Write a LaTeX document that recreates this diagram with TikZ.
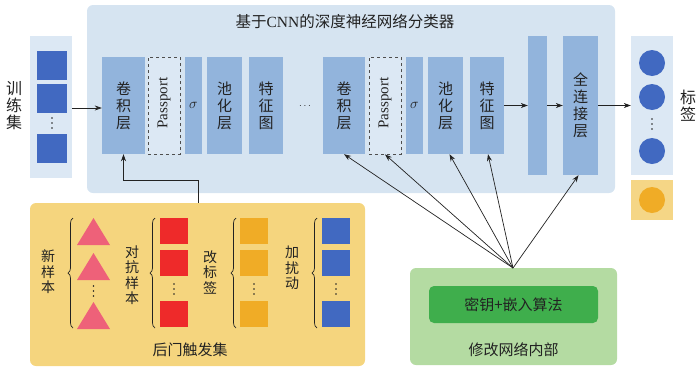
\documentclass[tikz,border=0pt]{standalone}
\usepackage{fontspec}
\setmainfont{Liberation Serif}
\newfontfamily\cjk{Noto Sans CJK SC}
\usetikzlibrary{arrows.meta,decorations.pathreplacing,calc}
\definecolor{panelblue}{HTML}{D6E4F1}
\definecolor{lightblue}{HTML}{DCE8F4}
\definecolor{layerblue}{HTML}{92B4DC}
\definecolor{sqblue}{HTML}{4169C1}
\definecolor{bdyellow}{HTML}{F5D57E}
\definecolor{smallyellow}{HTML}{F5D686}
\definecolor{orng}{HTML}{F0AC26}
\definecolor{pinkt}{HTML}{EE6179}
\definecolor{redsq}{HTML}{EE2A2A}
\definecolor{greenp}{HTML}{B4DBA2}
\definecolor{greeni}{HTML}{3FAE4C}
\definecolor{textc}{HTML}{222222}
\newcommand{\vdotsat}[2]{\foreach \dy in {-5,0,5} {\fill[textc] (#1,#2+\dy) circle (0.9pt);}}
\begin{document}
\begin{tikzpicture}[x=1pt,y=-1pt,
  layer/.style={fill=layerblue, inner sep=0pt, font=\cjk\fontsize{15}{17}\selectfont, align=center, text=textc},
  passbox/.style={fill=lightblue, draw=textc!80, dashed, line width=0.8pt, inner sep=0pt},
  passtext/.style={rotate=90, font=\fontsize{15}{16}\selectfont, text=textc, inner sep=0pt},
  arr/.style={draw=textc, line width=0.7pt, -{Stealth[length=7pt,width=5pt]}},
  vlabel/.style={font=\cjk\fontsize{14}{15.5}\selectfont, align=center, text=textc, inner sep=0pt},
  sq/.style={minimum width=28pt, minimum height=26pt, inner sep=0pt},
  bluesq/.style={sq, fill=sqblue},
  brc/.style={draw=textc, line width=0.7pt, decorate, decoration={brace, amplitude=5pt}}
]
\useasboundingbox (0,0) rectangle (700,370);

% main panel
\node[fill=panelblue, rounded corners=6pt, minimum width=528pt, minimum height=188pt, inner sep=0pt] (main) at (351,99) {};
\node[font=\fontsize{15.5}{17}\selectfont, text=textc] (title) at (345,22) {{\cjk 基于}CNN{\cjk 的深度神经网络分类器}};

% training set
\node[fill=lightblue, minimum width=42pt, minimum height=142pt, inner sep=0pt] (train) at (51,107) {};
\node[bluesq, minimum width=30pt, minimum height=29pt] (t1) at (52,65.5) {};
\node[bluesq, minimum width=30pt, minimum height=29pt] (t2) at (52,98.5) {};
\vdotsat{52}{123}
\node[bluesq, minimum width=30pt, minimum height=29pt] (t3) at (52,148.5) {};
\node[font=\cjk\fontsize{16}{17}\selectfont, align=center, text=textc, inner sep=0pt] (trainlbl) at (14,106) {训\\练\\集};

% layers
\node[layer, minimum width=43pt, minimum height=97pt] (c1) at (123.5,105.5) {卷\\积\\层};
\node[passbox, minimum width=32pt, minimum height=97pt] (p1) at (164,105.5) {};
\node[passtext] (p1t) at (164,103) {Passport};
\node[layer, minimum width=17pt, minimum height=97pt, font=\fontsize{14}{15}\selectfont] (s1) at (193.5,105.5) {$\sigma$};
\node[layer, minimum width=35pt, minimum height=97pt] (pool1) at (224.5,105.5) {池\\化\\层};
\node[layer, minimum width=34pt, minimum height=97pt] (f1) at (266,105.5) {特\\征\\图};
\node[text=textc, inner sep=0pt] (hd) at (305,106) {$\cdots$};
\node[layer, minimum width=42pt, minimum height=97pt] (c2) at (344,105.5) {卷\\积\\层};
\node[passbox, minimum width=32pt, minimum height=97pt] (p2) at (385,105.5) {};
\node[passtext] (p2t) at (385,103) {Passport};
\node[layer, minimum width=17pt, minimum height=97pt, font=\fontsize{14}{15}\selectfont] (s2) at (414.5,105.5) {$\sigma$};
\node[layer, minimum width=35pt, minimum height=97pt] (pool2) at (445.5,105.5) {池\\化\\层};
\node[layer, minimum width=34pt, minimum height=97pt] (f2) at (487,105.5) {特\\征\\图};
\node[layer, minimum width=19pt, minimum height=139pt] (bar) at (537.5,105.5) {};
\node[layer, minimum width=35pt, minimum height=139pt] (fc) at (580.5,105.5) {全\\连\\接\\层};

% labels
\node[fill=lightblue, minimum width=42pt, minimum height=139pt, inner sep=0pt] (lab) at (652,105.5) {};
\node[circle, fill=sqblue, minimum size=26pt, inner sep=0pt] (l1) at (652,63) {};
\node[circle, fill=sqblue, minimum size=26pt, inner sep=0pt] (l2) at (652,97) {};
\vdotsat{652}{124}
\node[circle, fill=sqblue, minimum size=26pt, inner sep=0pt] (l3) at (652,151) {};
\node[fill=smallyellow, minimum width=42pt, minimum height=40pt, inner sep=0pt] (ylab) at (652,200) {};
\node[circle, fill=orng, minimum size=26pt, inner sep=0pt] (yc) at (652,200) {};
\node[font=\cjk\fontsize{16}{17}\selectfont, align=center, text=textc, inner sep=0pt] (lablbl) at (688,106) {标\\签};

% arrows along the pipeline
\draw[arr] (train.east |- 0,108) -- (c1.west |- 0,108);
\draw[arr] (f2.east) -- (bar.west |- f2.east);
\draw[arr] (bar.east |- f2.east) -- (fc.west |- f2.east);
\draw[arr] (fc.east |- f2.east) -- (lab.west |- f2.east);

% backdoor panel
\node[fill=bdyellow, rounded corners=6pt, minimum width=335pt, minimum height=163pt, inner sep=0pt] (bd) at (197.5,284.5) {};
\node[font=\cjk\fontsize{15}{17}\selectfont, text=textc] (bdt) at (190,350) {后门触发集};
\coordinate (bdtop) at (198,203);
\draw[arr] (bdtop) -- (198,180) -| (c1.south);

% triangles
\draw[fill=pinkt, draw=none] (77,245) -- (110,245) -- (93.5,218) -- cycle;
\draw[fill=pinkt, draw=none] (77,280) -- (110,280) -- (93.5,253) -- cycle;
\vdotsat{93.5}{291}
\draw[fill=pinkt, draw=none] (77,329) -- (110,329) -- (93.5,302) -- cycle;
\draw[brc] (73,328) -- (73,218);
\node[vlabel] (xyb) at (48,272) {新\\样\\本};

% red squares
\node[sq, fill=redsq] (r1) at (174,231) {};
\node[sq, fill=redsq] (r2) at (174,263) {};
\vdotsat{174}{289}
\node[sq, fill=redsq] (r3) at (174,314) {};
\draw[brc] (155,328) -- (155,218);
\node[vlabel] (dkyb) at (132,275) {对\\抗\\样\\本};

% orange squares
\node[sq, fill=orng] (o1) at (254,231) {};
\node[sq, fill=orng] (o2) at (254,263) {};
\vdotsat{254}{289}
\node[sq, fill=orng] (o3) at (254,314) {};
\draw[brc] (236,328) -- (236,218);
\node[vlabel] (gbq) at (210,272) {改\\标\\签};

% blue squares
\node[bluesq] (b1) at (336,231) {};
\node[bluesq] (b2) at (336,263) {};
\vdotsat{336}{289}
\node[bluesq] (b3) at (336,314) {};
\draw[brc] (317,328) -- (317,218);
\node[vlabel] (jrd) at (292,268) {加\\扰\\动};

% green panel
\node[fill=greenp, rounded corners=6pt, minimum width=207pt, minimum height=97pt, inner sep=0pt] (gp) at (513.5,316.5) {};
\node[fill=greeni, rounded corners=5pt, minimum width=169pt, minimum height=37pt, inner sep=0pt, font=\cjk\fontsize{15}{17}\selectfont, text=textc] (gi) at (513.5,304.5) {密钥+嵌入算法};
\node[font=\cjk\fontsize{15}{17}\selectfont, text=textc] (gpt) at (513.5,350) {修改网络内部};

% fan arrows
\coordinate (fan) at (513,268);
\draw[arr] (fan) -- (c2.south);
\draw[arr] (fan) -- (p2.south);
\draw[arr] (fan) -- ($(pool2.south)+(4,0)$);
\draw[arr] (fan) -- ($(f2.south)+(1,0)$);
\draw[arr] (fan) -- ($(fc.south)+(-2,0)$);
\end{tikzpicture}
\end{document}
